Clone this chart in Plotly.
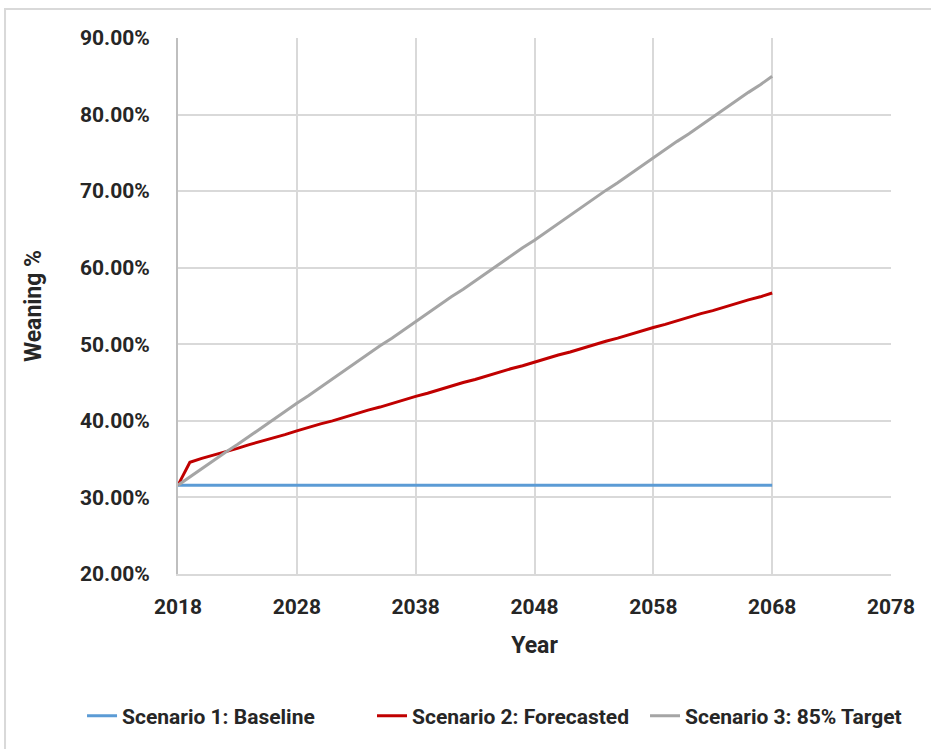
import plotly.graph_objects as go

years = list(range(2018, 2069))

baseline = [31.6] * 51

forecasted = [31.6, 34.6, 35.1, 35.5, 36.0, 36.4, 36.9, 37.3, 37.8, 38.2,
              38.7, 39.1, 39.6, 40.0, 40.5, 40.9, 41.4, 41.8, 42.3, 42.7,
              43.2, 43.6, 44.1, 44.5, 45.0, 45.4, 45.9, 46.3, 46.8, 47.2,
              47.7, 48.1, 48.6, 49.0, 49.5, 49.9, 50.4, 50.8, 51.3, 51.7,
              52.2, 52.6, 53.1, 53.5, 54.0, 54.4, 54.9, 55.3, 55.8, 56.2,
              56.7]

target = [31.6, 32.7, 33.7, 34.8, 35.9, 36.9, 38.0, 39.1, 40.1, 41.2,
          42.3, 43.3, 44.4, 45.5, 46.6, 47.6, 48.7, 49.8, 50.8, 51.9,
          53.0, 54.0, 55.1, 56.2, 57.2, 58.3, 59.4, 60.4, 61.5, 62.6,
          63.6, 64.7, 65.8, 66.9, 67.9, 69.0, 70.1, 71.1, 72.2, 73.3,
          74.3, 75.4, 76.5, 77.5, 78.6, 79.7, 80.7, 81.8, 82.9, 83.9,
          85.0]

names = ["Scenario 1: Baseline", "Scenario 2: Forecasted", "Scenario 3: 85% Target"]
colors = ["#5b9bd5", "#c00000", "#a5a5a5"]

FONT = "Roboto, sans-serif"
TXT = "#262626"

legend_ids = ["legend", "legend2", "legend3"]
legend_x = [-0.1346, 0.2721, 0.655]

fig = go.Figure()
for name, vals, c, lg in zip(names, [baseline, forecasted, target], colors, legend_ids):
    fig.add_trace(go.Scatter(x=years, y=vals, mode="lines", name="<b>" + name + "</b>",
                             line=dict(color=c, width=3), hoverinfo="x+y", legend=lg))

legend_style = dict(orientation="h", xanchor="left", y=-0.265, yanchor="middle",
                    font=dict(family=FONT, size=21, color=TXT), bgcolor="rgba(0,0,0,0)")

fig.update_layout(
    width=931, height=749,
    margin=dict(l=178, r=40, t=38, b=175, autoexpand=False),
    paper_bgcolor="white", plot_bgcolor="white",
    font=dict(family=FONT, size=21, color=TXT),
    showlegend=True,
    legend=dict(x=legend_x[0], **legend_style),
    legend2=dict(x=legend_x[1], **legend_style),
    legend3=dict(x=legend_x[2], **legend_style),
    xaxis=dict(range=[2018, 2078], tickmode="linear", tick0=2018, dtick=10,
               showgrid=True, gridcolor="#d9d9d9", gridwidth=2,
               showline=True, linecolor="#d9d9d9", linewidth=2,
               zeroline=False, ticks="",
               tickprefix="<b>", ticksuffix="</b>",
               tickfont=dict(family=FONT, size=21, color=TXT),
               ticklabelstandoff=13,
               title=dict(text="<b>Year</b>", font=dict(family=FONT, size=23, color=TXT), standoff=19)),
    yaxis=dict(range=[20, 90], tickmode="linear", tick0=20, dtick=10,
               tickformat=".2f", tickprefix="<b>", ticksuffix="%</b>",
               showgrid=True, gridcolor="#d9d9d9", gridwidth=2,
               showline=True, linecolor="#bfbfbf", linewidth=2,
               zeroline=False, ticks="",
               tickfont=dict(family=FONT, size=21, color=TXT),
               ticklabelstandoff=22,
               title=dict(text="<b>Weaning %</b>", font=dict(family=FONT, size=23, color=TXT), standoff=32)),
)

fig.add_shape(type="rect", xref="paper", yref="paper",
              x0=-0.2426, x1=1.07, y0=-0.34, y1=1.054,
              line=dict(color="#d9d9d9", width=2), fillcolor="rgba(0,0,0,0)", layer="below")

fig.write_html("out.html")
